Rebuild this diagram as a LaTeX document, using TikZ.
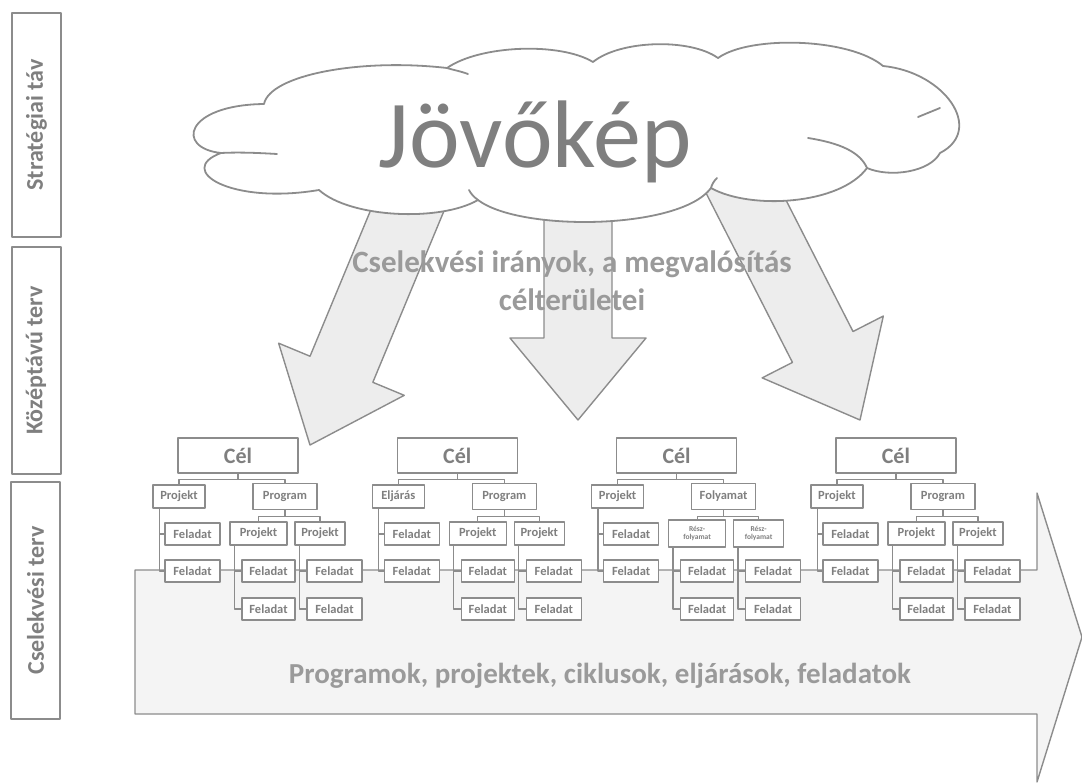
\documentclass[tikz,border=0pt]{standalone}
\usepackage{fontspec}
\setmainfont{Carlito}
\usetikzlibrary{calc}

\definecolor{linegray}{HTML}{8C8C8C}
\definecolor{txtgray}{HTML}{7F7F7F}
\definecolor{softtxt}{HTML}{9A9A9A}
\definecolor{arrowfill}{HTML}{EDEDED}
\definecolor{bandfill}{HTML}{F4F4F4}

\tikzset{
  lvlbox/.style={draw=linegray, line width=1.4pt, fill=white, text=txtgray, inner sep=1pt,
    font=\bfseries\fontsize{12.5}{13}\selectfont},
  smallbox/.style={lvlbox, minimum height=23},
  tinybox/.style={lvlbox, minimum height=27, align=center, font=\bfseries\fontsize{7.5}{8}\selectfont},
  celbox/.style={lvlbox, line width=1.6pt, minimum width=120, minimum height=35,
    font=\bfseries\fontsize{22}{23}\selectfont},
  orgline/.style={draw=linegray, line width=1.2pt},
  sidebox/.style={draw=linegray, line width=2pt, rotate=90, minimum width=#1, minimum height=49,
    text=txtgray, font=\bfseries\fontsize{24}{26}\selectfont},
  dirarrow/.style={draw=linegray, line width=1.4pt, fill=arrowfill},
  cloudline/.style={draw=linegray, line width=1.8pt, line cap=round},
}

\begin{document}
\begin{tikzpicture}[x=1pt, y=-1pt, line join=round]
    \useasboundingbox (0,0) rectangle (1082,784);
    % the band arrow below
    \draw[draw=linegray, line width=1.4pt, fill=bandfill]
    (135,570) -- (1037,570) -- (1037,493) -- (1082,637) -- (1037,782) -- (1037,714) -- (135,714) -- cycle;
    \node[text=softtxt, font=\bfseries\fontsize{29}{31}\selectfont] (band) at (600,676)
    {Programok, projektek, ciklusok, eljárások, feladatok};
    % three arrows from the cloud
    \foreach \sx/\sy/\tx/\ty in {420/180/310/445, 578/180/578/420, 735/175/860/420}{
        \coordinate (arrs) at (\sx,\sy);
        \coordinate (arrt) at (\tx,\ty);
        \coordinate (arrb) at ($(arrt)!82pt!(arrs)$);
        \draw[dirarrow] ($(arrs)!34pt!90:(arrt)$) -- ($(arrb)!34pt!90:(arrt)$)
        -- ($(arrb)!68pt!90:(arrt)$) -- (arrt) -- ($(arrb)!68pt!-90:(arrt)$)
        -- ($(arrb)!34pt!-90:(arrt)$) -- ($(arrs)!34pt!-90:(arrt)$) -- cycle;
    }
    % cloud
    \draw[cloudline, fill=white]
    (221,153) .. controls (175,148) and (185,105) .. (264,104)
    .. controls (270,75) and (360,58) .. (447,68)
    .. controls (480,45) and (560,42) .. (593,62)
    .. controls (620,40) and (690,38) .. (718,58)
    .. controls (750,35) and (850,38) .. (883,66)
    .. controls (945,72) and (985,130) .. (940,153)
    .. controls (930,172) and (890,178) .. (867,168)
    .. controls (840,205) and (750,210) .. (711,188)
    .. controls (680,230) and (520,232) .. (478,200)
    .. controls (440,222) and (350,218) .. (319,190)
    .. controls (230,205) and (175,170) .. (221,153) -- cycle;
    \draw[cloudline] (221,153) .. controls (240,152) and (260,153) .. (277,154);
    \draw[cloudline] (447,68) .. controls (453,70) and (460,71) .. (468,74);
    \draw[cloudline] (808,138) .. controls (840,143) and (860,152) .. (867,168);
    \draw[cloudline] (918,117) -- (940,108);
    \draw[cloudline] (478,200) .. controls (474,197) and (471,194) .. (469,190);
    \draw[cloudline] (711,188) .. controls (712,184) and (714,181) .. (717,178);
    \node[text=txtgray, font=\fontsize{96}{100}\selectfont] (vision) at (535,142) {Jövőkép};
    \node[text=softtxt, align=center, font=\bfseries\fontsize{31}{38}\selectfont] (dirtext) at (572,281)
    {Cselekvési irányok, a megvalósítás\\célterületei};
    % side labels
    \node[sidebox=224] (strat) at (36.5,125) {Stratégiai táv};
    \node[sidebox=227] (mid) at (36,360.5) {Középtávú terv};
    \node[sidebox=237] (act) at (35.5,600.5) {Cselekvési terv};
    % goal trees
    \foreach \g/\lt/\rt/\st/\sty in {0/Projekt/Program/Projekt/smallbox, 1/Eljárás/Program/Projekt/smallbox,
        2/Projekt/Folyamat/{Rész-\\folyamat}/tinybox, 3/Projekt/Program/Projekt/smallbox}{
        \begin{scope}[xshift=\g*219.3]
            \node[celbox] (cel\g) at (238,455.5) {Cél};
            \node[smallbox, minimum width=52] (l\g) at (179,496.5) {\lt};
            \node[smallbox, minimum width=64, minimum height=26] (r\g) at (285,496.5) {\rt};
            \node[lvlbox, minimum width=55, minimum height=22] (la\g) at (192.5,534) {Feladat};
            \node[lvlbox, minimum width=55, minimum height=22] (lb\g) at (192.5,571) {Feladat};
            \node[\sty, minimum width=57] (ra\g) at (258.5,533.5) {\st};
            \node[\sty, minimum width=50] (rb\g) at (320,533.5) {\st};
            \node[lvlbox, minimum width=53, minimum height=22] (rab\g) at (268.5,571) {Feladat};
            \node[lvlbox, minimum width=53, minimum height=22] (rac\g) at (268.5,609) {Feladat};
            \node[lvlbox, minimum width=55, minimum height=22] (rbb\g) at (334.5,571) {Feladat};
            \node[lvlbox, minimum width=55, minimum height=22] (rbc\g) at (334.5,609) {Feladat};
            \draw[orgline] (cel\g.south) -- ++(0,6) -| (l\g.north);
            \draw[orgline] (cel\g.south) -- ++(0,6) -| (r\g.north);
            \draw[orgline] ([xshift=7]l\g.south west) |- (la\g.west);
            \draw[orgline] ([xshift=7]l\g.south west) |- (lb\g.west);
            \draw[orgline] (r\g.south) -- ++(0,6) -| (ra\g.north);
            \draw[orgline] (r\g.south) -- ++(0,6) -| (rb\g.north);
            \draw[orgline] ([xshift=5]ra\g.south west) |- (rab\g.west);
            \draw[orgline] ([xshift=5]ra\g.south west) |- (rac\g.west);
            \draw[orgline] ([xshift=5]rb\g.south west) |- (rbb\g.west);
            \draw[orgline] ([xshift=5]rb\g.south west) |- (rbc\g.west);
        \end{scope}
    }
\end{tikzpicture}
\end{document}
